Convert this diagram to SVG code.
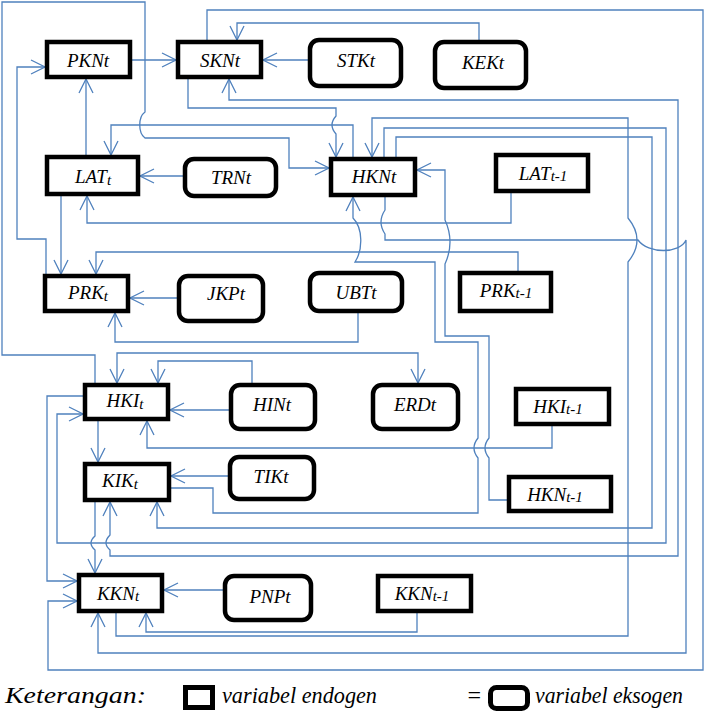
<svg xmlns="http://www.w3.org/2000/svg" width="705" height="712" viewBox="0 0 705 712">
<style>
.en{fill:#fff;stroke:#000;stroke-width:4.5}
.ex{fill:#fff;stroke:#000;stroke-width:4.5}
.lb{font-family:"Liberation Serif",serif;font-style:italic;font-size:19px;fill:#000;text-anchor:middle}
.sb{font-size:15px}
.c path{fill:none;stroke:#4f81bd;stroke-width:1.3}
.lg{font-family:"Liberation Serif",serif;font-style:italic;font-size:24px;fill:#000}
</style>
<defs>
<marker id="a" viewBox="0 0 16 16" refX="15" refY="8" markerWidth="16" markerHeight="16" markerUnits="userSpaceOnUse" orient="auto-start-reverse">
<path d="M1,1 L15,8 L1,15" fill="none" stroke="#4f81bd" stroke-width="1.3"/>
</marker>
</defs>
<rect width="705" height="712" fill="#fff"/>
<g class="c" id="connectors">
<path d="M132,60 H176" marker-end="url(#a)"/>
<path d="M308,60 H263" marker-end="url(#a)"/>
<path d="M86,155 V79" marker-end="url(#a)"/>
<path d="M46,274 V239 H17 V67 H45" marker-end="url(#a)"/>
<path d="M95,383 V355 H2 V2 H145 V112 C138,117 138,133 145,138 H289 V168 H329" marker-end="url(#a)"/>
<path d="M479,40 V23 H237 V40" marker-end="url(#a)"/>
<path d="M207,40 V10 H703 V670 H48 V601 H77" marker-end="url(#a)"/>
<path d="M188,79 V108 H336 V116 Q328,125 336,134 V157" marker-end="url(#a)"/>
<path d="M353,157 V125 H111 V155" marker-end="url(#a)"/>
<path d="M116,613 V636 H628 V262 Q646,240 628,218 V118 H372 V157" marker-end="url(#a)"/>
<path d="M384,157 V128 H666 V543 H57 V414 H83" marker-end="url(#a)"/>
<path d="M396,157 V137 H652 V528 H157 V502" marker-end="url(#a)"/>
<path d="M229,79 V100 H678 V556 H110 V550 Q102,543 110,535 V502" marker-start="url(#a)" marker-end="url(#a)"/>
<path d="M385,197 V210 Q377,222 385,234 V240 H638 C648,254 680,254 686,240 V653 H98 V613" marker-end="url(#a)"/>
<path d="M511,193 V223 H87 V196" marker-end="url(#a)"/>
<path d="M518,271 V252 H96 V274" marker-end="url(#a)"/>
<path d="M61,196 V274" marker-end="url(#a)"/>
<path d="M183,176 H140" marker-end="url(#a)"/>
<path d="M177,298 H130" marker-end="url(#a)"/>
<path d="M358,313 V342 H115 V313" marker-end="url(#a)"/>
<path d="M507,500 H489 V458 Q481,448 489,438 V336 H445 V264 Q455,242 445,220 V170 H417" marker-end="url(#a)"/>
<path d="M170,488 H213 V513 H478 V458 Q470,448 478,438 V342 H435 V262 H355 C363,250 363,228 353,218 V197" marker-end="url(#a)"/>
<path d="M117,383 V353 H418 V383" marker-start="url(#a)" marker-end="url(#a)"/>
<path d="M252,383 V361 H158 V383" marker-end="url(#a)"/>
<path d="M229,410 H170" marker-end="url(#a)"/>
<path d="M552,426 V448 H147 V421" marker-end="url(#a)"/>
<path d="M98,421 V462" marker-end="url(#a)"/>
<path d="M228,476 H171" marker-end="url(#a)"/>
<path d="M95,502 V536 Q87,543 95,550 V573" marker-end="url(#a)"/>
<path d="M83,396 H47 V581 H77" marker-end="url(#a)"/>
<path d="M223,590 H164" marker-end="url(#a)"/>
<path d="M417,613 V632 H146 V613" marker-end="url(#a)"/>
</g>
<g id="PKN"><rect class="en" x="47" y="42" width="83" height="35"/><text class="lb" x="88" y="67">PKNt</text></g>
<g id="SKN"><rect class="en" x="178" y="42" width="83" height="35"/><text class="lb" x="220" y="67">SKNt</text></g>
<g id="STK"><rect class="ex" x="310" y="40" width="91" height="46" rx="9"/><text class="lb" x="356" y="67">STKt</text></g>
<g id="KEK"><rect class="ex" x="435" y="42" width="91" height="46" rx="9"/><text class="lb" x="483" y="69">KEKt</text></g>
<g id="LAT"><rect class="en" x="47" y="157" width="91" height="37"/><text class="lb" x="93" y="183">LAT<tspan class="sb" dy="2">t</tspan></text></g>
<g id="TRN"><rect class="ex" x="185" y="159" width="91" height="37" rx="9"/><text class="lb" x="231" y="184">TRNt</text></g>
<g id="HKN"><rect class="en" x="331" y="159" width="84" height="36"/><text class="lb" x="374" y="183">HKNt</text></g>
<g id="LAT1"><rect class="en" x="496" y="155" width="92" height="36"/><text class="lb" x="543" y="180">LAT<tspan class="sb" dy="1">t-1</tspan></text></g>
<g id="PRK"><rect class="en" x="45" y="276" width="83" height="35"/><text class="lb" x="88" y="299">PRK<tspan class="sb" dy="2">t</tspan></text></g>
<g id="JKP"><rect class="ex" x="179" y="276" width="84" height="45" rx="9"/><text class="lb" x="226" y="300">JKPt</text></g>
<g id="UBT"><rect class="ex" x="310" y="273" width="92" height="38" rx="9"/><text class="lb" x="356" y="299">UBTt</text></g>
<g id="PRK1"><rect class="en" x="460" y="273" width="91" height="38"/><text class="lb" x="506" y="297">PRK<tspan class="sb" dy="1">t-1</tspan></text></g>
<g id="HKI"><rect class="en" x="85" y="385" width="83" height="34"/><text class="lb" x="125" y="407">HKI<tspan class="sb" dy="2">t</tspan></text></g>
<g id="HIN"><rect class="ex" x="231" y="385" width="84" height="44" rx="9"/><text class="lb" x="272" y="411">HINt</text></g>
<g id="ERD"><rect class="ex" x="373" y="385" width="85" height="44" rx="9"/><text class="lb" x="415" y="411">ERDt</text></g>
<g id="HKI1"><rect class="en" x="516" y="389" width="93" height="35"/><text class="lb" x="558" y="413">HKI<tspan class="sb" dy="1">t-1</tspan></text></g>
<g id="KIK"><rect class="en" x="85" y="464" width="84" height="36"/><text class="lb" x="120" y="487">KIK<tspan class="sb" dy="2">t</tspan></text></g>
<g id="TIK"><rect class="ex" x="230" y="457" width="84" height="42" rx="9"/><text class="lb" x="271" y="483">TIKt</text></g>
<g id="HKN1"><rect class="en" x="509" y="477" width="102" height="34"/><text class="lb" x="555" y="501">HKN<tspan class="sb" dy="1">t-1</tspan></text></g>
<g id="KKN"><rect class="en" x="79" y="575" width="83" height="36"/><text class="lb" x="118" y="600">KKN<tspan class="sb" dy="1">t</tspan></text></g>
<g id="PNP"><rect class="ex" x="225" y="576" width="86" height="44" rx="9"/><text class="lb" x="270" y="603">PNPt</text></g>
<g id="KKN1"><rect class="en" x="378" y="576" width="93" height="35"/><text class="lb" x="422" y="600">KKN<tspan class="sb" dy="1">t-1</tspan></text></g>
<g id="legend">
<text class="lg" x="5" y="703" textLength="141" lengthAdjust="spacingAndGlyphs">Keterangan:</text>
<rect x="185.5" y="687.5" width="27" height="20" fill="#fff" stroke="#000" stroke-width="5"/>
<text class="lg" x="222" y="703" textLength="155" lengthAdjust="spacingAndGlyphs">variabel endogen</text>
<text class="lg" x="466" y="703" font-style="normal">=</text>
<rect x="490.5" y="687.5" width="37" height="21" rx="6" fill="#fff" stroke="#000" stroke-width="5"/>
<text class="lg" x="535" y="703" textLength="148" lengthAdjust="spacingAndGlyphs">variabel eksogen</text>
</g>
</svg>
